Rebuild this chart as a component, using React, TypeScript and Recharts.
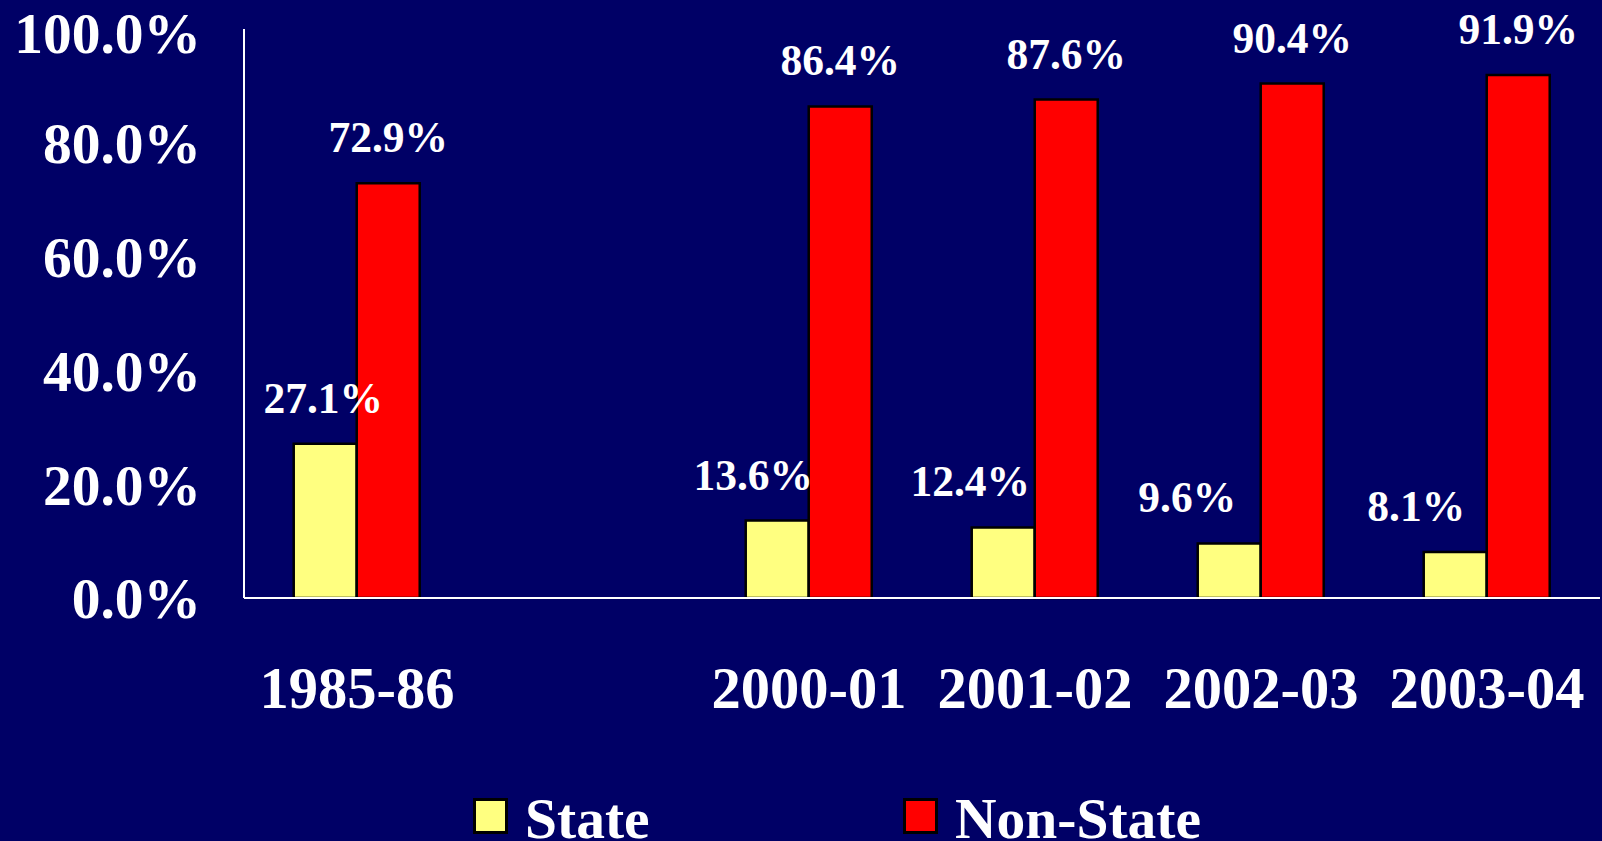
import React from "react";
import { BarChart, Bar, XAxis, YAxis, Legend, LabelList } from "recharts";

const categories = ["1985-86", "", "2000-01", "2001-02", "2002-03", "2003-04"];
const stateValues: (number | null)[] = [27.1, null, 13.6, 12.4, 9.6, 8.1];
const nonStateValues: (number | null)[] = [72.9, null, 86.4, 87.6, 90.4, 91.9];
const yTicks = [0, 20, 40, 60, 80, 100];

// horizontal nudge of the State value labels, as placed in the original slide
const stateLabelShift = [-2, 0, -24, -33, -42, -39];

const data = categories.map((c, i) => ({
  name: c,
  state: stateValues[i],
  nonState: nonStateValues[i],
}));

const BG = "#000066";
const YELLOW = "#FFFF80";
const RED = "#FF0000";
const FONT = "'Liberation Serif', 'Times New Roman', serif";
const LABEL_SIZE = 43.5;

const fmt = (v: any) => (v == null ? "" : `${Number(v).toFixed(1)}%`);

const StateLabel = (props: any) => {
  const { x, y, width, value } = props;
  if (value == null) return null;
  const i = stateValues.indexOf(Number(value));
  const cx = Number(x) + Number(width) / 2 + (i >= 0 ? stateLabelShift[i] : 0);
  return (
    <text
      x={cx}
      y={Number(y) - 31}
      textAnchor="middle"
      fill="#fff"
      fontSize={LABEL_SIZE}
      fontWeight="bold"
      fontFamily={FONT}
    >
      {fmt(value)}
    </text>
  );
};

const LegendContent = () => (
  <div style={{ position: "relative", width: 1602, height: 60 }}>
    <div style={{ position: "absolute", left: 473, top: 17, width: 29, height: 30, background: YELLOW, border: "3px solid #000" }} />
    <div style={{ position: "absolute", left: 525, top: 6, fontFamily: FONT, fontWeight: "bold", fontSize: 57.5, color: "#fff", lineHeight: "64px", whiteSpace: "nowrap" }}>State</div>
    <div style={{ position: "absolute", left: 903, top: 17, width: 29, height: 30, background: RED, border: "3px solid #000" }} />
    <div style={{ position: "absolute", left: 955, top: 6, fontFamily: FONT, fontWeight: "bold", fontSize: 57.5, color: "#fff", lineHeight: "64px", whiteSpace: "nowrap" }}>Non-State</div>
  </div>
);

export default function App() {
  return (
    <div style={{ position: "absolute", left: 0, top: 0, width: 1602, height: 841, background: BG, overflow: "hidden" }}>
      <BarChart
        width={1602}
        height={841}
        data={data}
        margin={{ top: 29, right: 2, bottom: 0, left: 0 }}
        barCategoryGap="22%"
        barGap={0}
      >
        <XAxis
          dataKey="name"
          axisLine={{ stroke: "#fff", strokeWidth: 2 }}
          tickLine={false}
          tickSize={0}
          tickMargin={68}
          height={183}
          interval={0}
          tick={{ fill: "#fff", fontSize: 58.5, fontWeight: "bold", fontFamily: FONT }}
        />
        <YAxis
          domain={[0, 100]}
          ticks={yTicks}
          width={244}
          axisLine={{ stroke: "#fff", strokeWidth: 2 }}
          tickLine={false}
          tickSize={0}
          tickMargin={43}
          tickFormatter={fmt}
          tick={{ fill: "#fff", fontSize: 57.5, fontWeight: "bold", fontFamily: FONT }}
        />
        <Legend verticalAlign="bottom" height={60} content={<LegendContent />} />
        <Bar dataKey="state" name="State" fill={YELLOW} stroke="#000" strokeWidth={2.5} isAnimationActive={false}>
          <LabelList dataKey="state" content={<StateLabel />} />
        </Bar>
        <Bar dataKey="nonState" name="Non-State" fill={RED} stroke="#000" strokeWidth={2.5} isAnimationActive={false}>
          <LabelList dataKey="nonState" position="top" offset={31} formatter={fmt} fill="#fff" fontSize={LABEL_SIZE} fontWeight="bold" fontFamily={FONT} />
        </Bar>
      </BarChart>
    </div>
  );
}
